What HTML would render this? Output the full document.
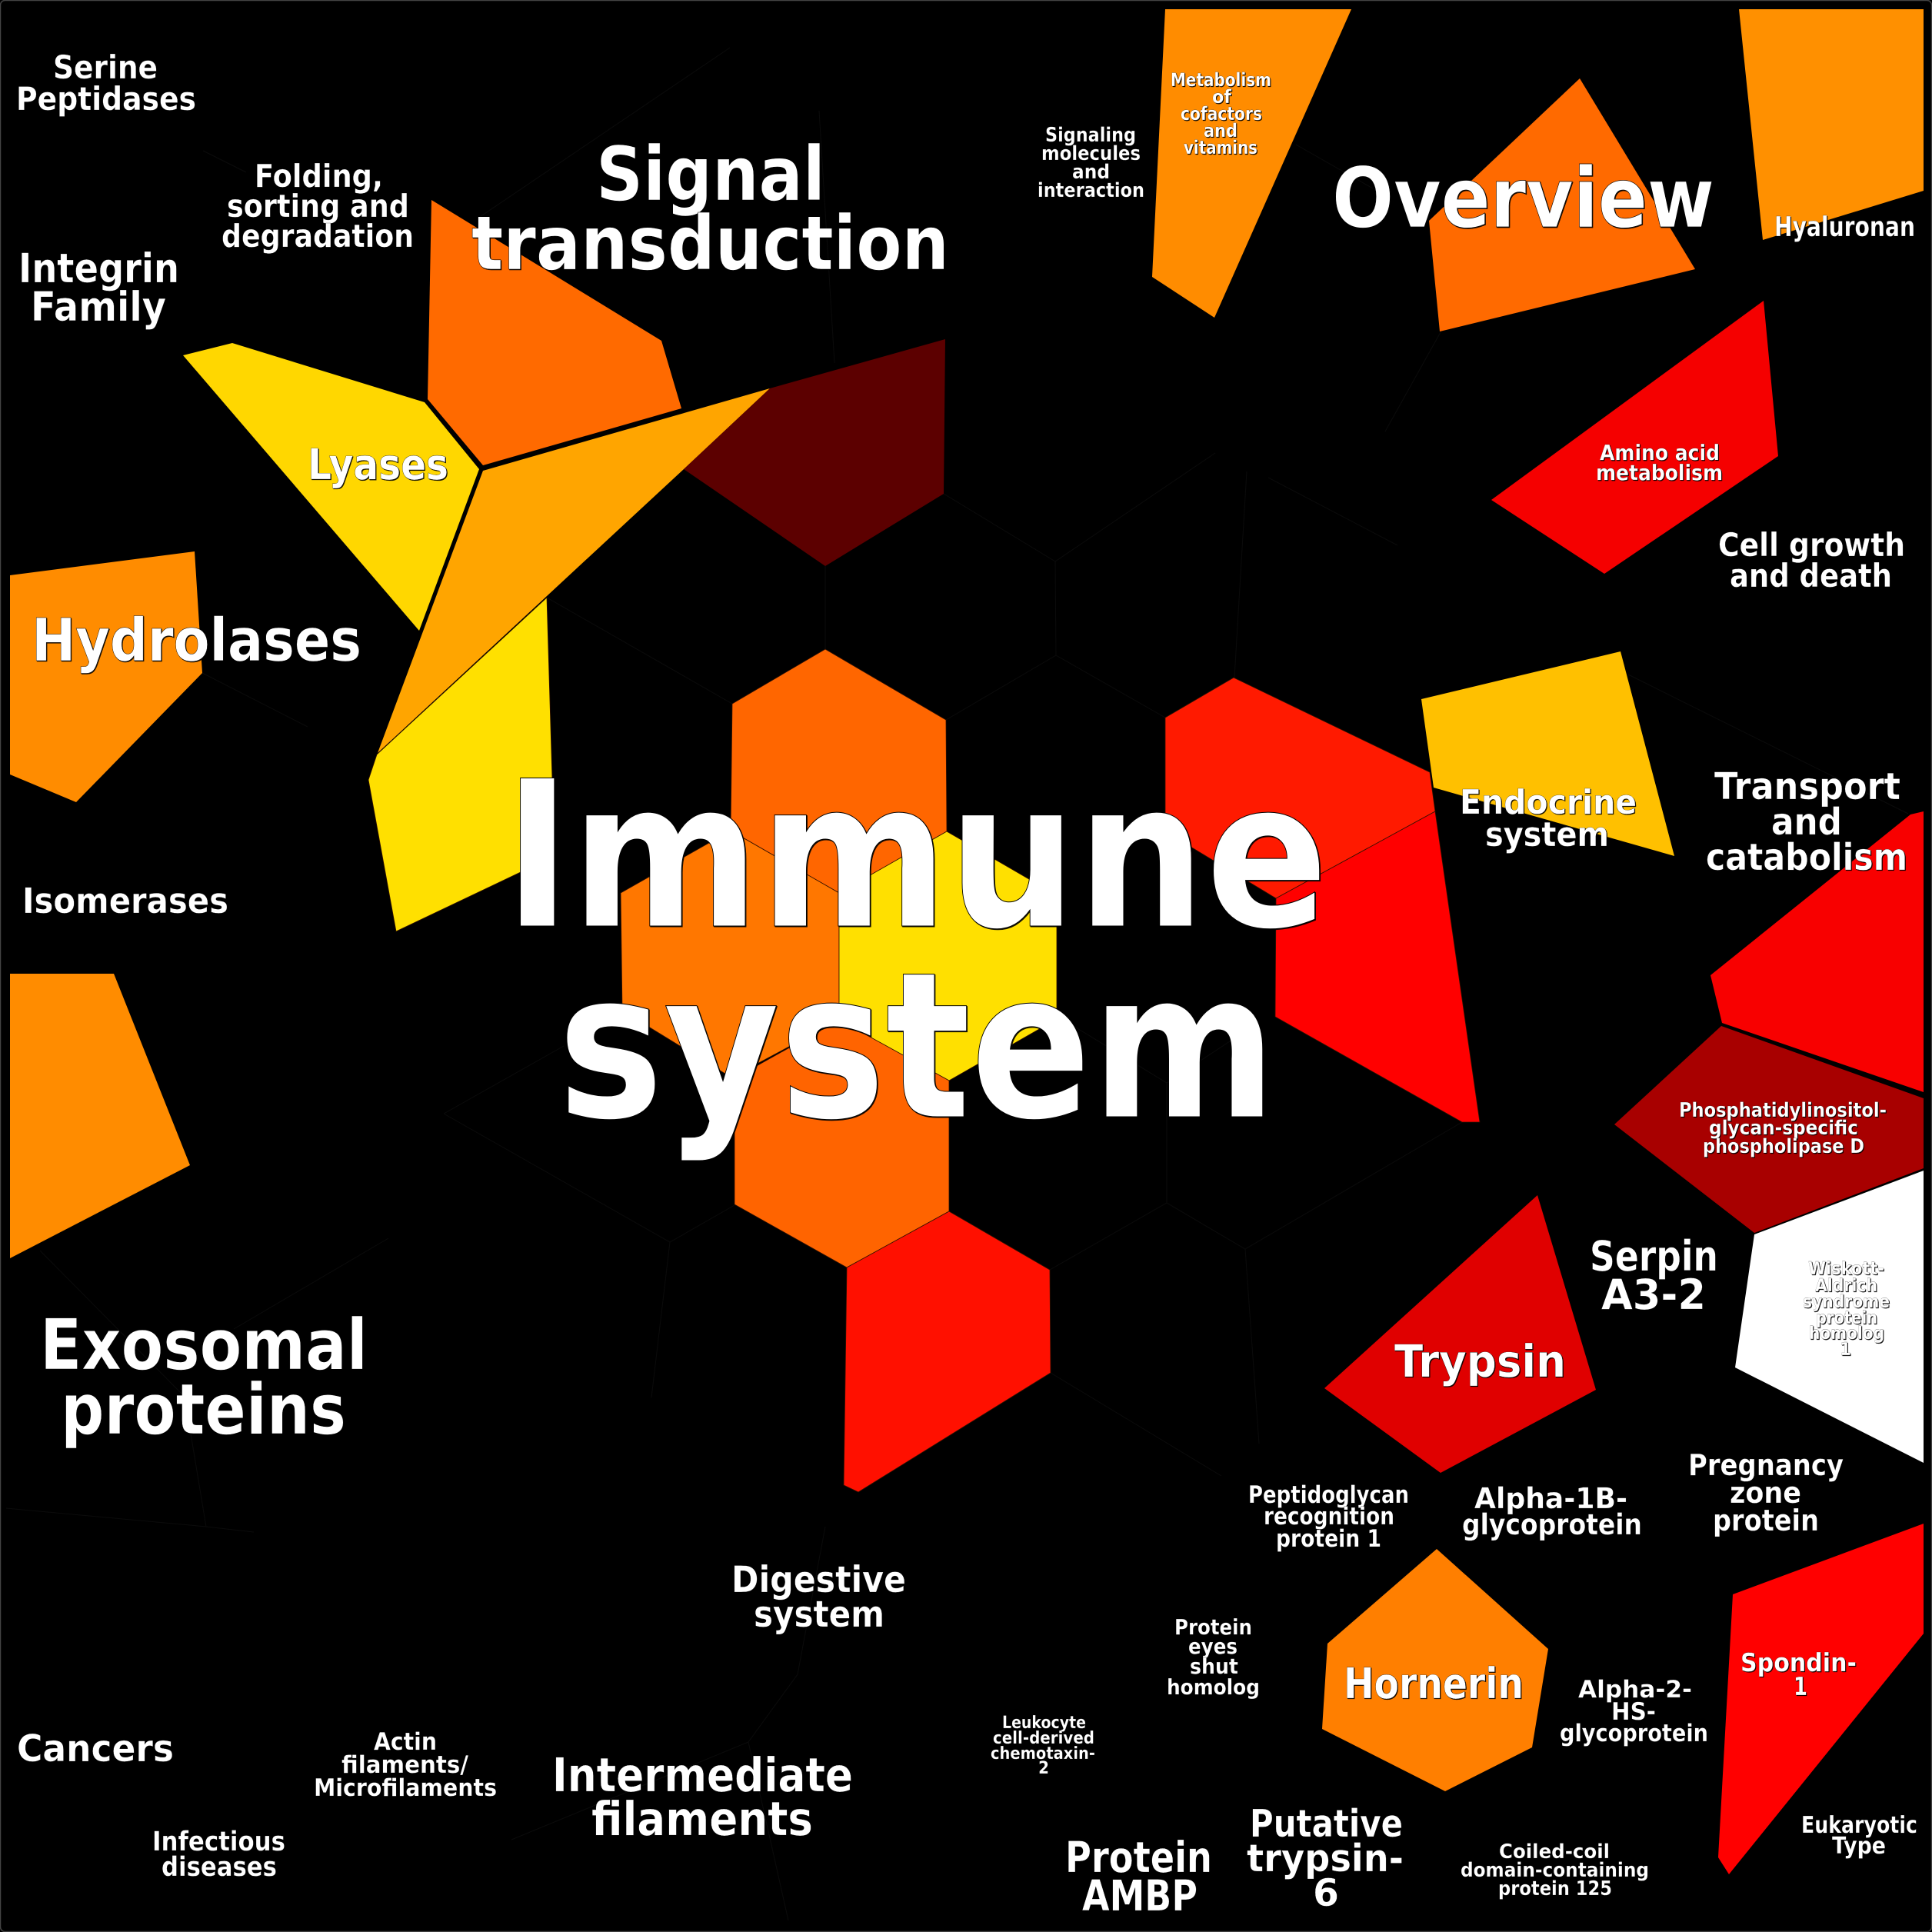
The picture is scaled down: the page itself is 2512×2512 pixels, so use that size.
<!DOCTYPE html>
<html><head><meta charset="utf-8"><style>
html,body{margin:0;padding:0;background:#000}
svg{display:block}
text{font-family:"DejaVu Sans","Liberation Sans",sans-serif;font-weight:bold;fill:#fff;stroke:#000;stroke-width:.006em}
#t{filter:drop-shadow(1.2px 1.2px 0 rgba(0,0,0,.9))}
</style></head><body>
<svg xmlns="http://www.w3.org/2000/svg" width="2512" height="2512" viewBox="0 0 2512 2512">
<rect width="2512" height="2512" fill="#000"/>
<rect x="0.5" y="0.5" width="2511" height="2511" rx="6" fill="none" stroke="#444" stroke-width="1.5"/>
<g fill="none" stroke="#0b0b0b" stroke-width="1">
<path d="M949 62L621 284M1065 144L1085 472M711 777L952 915M1073 736V844M1227 642L1372 730L1373 852L1230 936M1372 730L1580 589M1373 852L1515 933M1621 613L1605 881M1873 432L1801 561M1649 621L1817 709M1685 188L1785 245M2117 877L2481 1058"/>
<path d="M263 875L400 945M264 196L320 224M577 1448L733 1360M577 1448L871 1615L955 1567M871 1615L847 1817M52 1626L240 1816L268 1985M505 1610L304 1728M8 1961L268 1985L330 1992M1073 1985L1037 2177L973 2265L665 2392M973 2265L1025 2497"/>
<path d="M1399 1336L1517 1408V1564M1517 1408L1608 1348M1365 1651L1517 1564L1619 1624L1901 1459M1619 1624L1637 1877M1366 1785L1588 1919"/>
</g>
<g stroke="#301000" stroke-width="0.8">
<polygon fill="#ff6a00" points="561,260 860,443 886,531 628,605 556,519" stroke="none"/>
<polygon fill="#ffd700" points="238,462 302,446 552,523 623,610 545,820" stroke="none"/>
<polygon fill="#ffa500" points="628,612 1001,505 889,610 711,775 491,979" stroke="none"/>
<polygon fill="#5c0000" points="1001,505 1229,441 1227,642 1073,736 889,610" stroke="none"/>
<polygon fill="#ff8c00" points="13,748 253,717 263,875 99,1043 13,1007" stroke="none"/>
<polygon fill="#ffe000" points="711,777 721,1113 515,1211 479,1014 490,981"/>
<polygon fill="#ff6600" points="1073,844 1230,936 1231,1081 1091,1161 950,1080 952,915"/>
<polygon fill="#ff7700" points="950,1080 1091,1161 1091,1326 951,1401 809,1314 807,1161"/>
<polygon fill="#ffe000" points="1091,1161 1231,1081 1374,1164 1374,1325 1234,1405 1091,1326"/>
<polygon fill="#ff6400" points="955,1402 1091,1326 1234,1405 1234,1575 1101,1648 955,1566"/>
<polygon fill="#ff1000" points="1101,1648 1234,1575 1365,1651 1366,1785 1116,1940 1097,1931"/>
<polygon fill="#ff1a00" points="1515,933 1604,881 1859,1004 1866,1055 1659,1168 1515,1081"/>
<polygon fill="#ff0000" points="1866,1055 1659,1168 1658,1322 1901,1459 1924,1459"/>
</g>
<g stroke="none">
<polygon fill="#ff6a00" points="2054,102 2204,350 1872,431 1858,287"/>
<polygon fill="#ff8c00" points="1515,12 1757,12 1579,413 1498,360"/>
<polygon fill="#ff9000" points="2261,12 2501,12 2501,248 2292,312"/>
<polygon fill="#f50000" points="2293,391 2312,593 2086,746 1939,650"/>
<polygon fill="#ffc000" points="1848,909 2107,847 2177,1113 1864,1024"/>
<polygon fill="#f80000" points="2484,1059 2501,1055 2501,1420 2239,1330 2224,1268"/>
<polygon fill="#a80000" points="2238,1334 2501,1428 2501,1519 2281,1603 2099,1462"/>
<polygon fill="#ffffff" points="2501,1522 2501,1902 2256,1778 2281,1605"/>
<polygon fill="#e00000" points="1999,1554 2075,1807 1873,1915 1722,1805"/>
<polygon fill="#ff7f00" points="1868,2014 2013,2144 1992,2272 1879,2329 1719,2248 1726,2137"/>
<polygon fill="#ff0000" points="2253,2073 2501,1981 2501,2124 2248,2437 2234,2415"/>
<polygon fill="#ff8c00" points="13,1266 148,1266 247,1515 13,1636"/>
</g>
<g id="t">
<text x="69" y="102" font-size="42" textLength="136" lengthAdjust="spacingAndGlyphs">Serine</text>
<text x="21" y="143" font-size="42" textLength="234" lengthAdjust="spacingAndGlyphs">Peptidases</text>
<text x="331" y="243" font-size="41" textLength="167" lengthAdjust="spacingAndGlyphs">Folding,</text>
<text x="295" y="282" font-size="41" textLength="237" lengthAdjust="spacingAndGlyphs">sorting and</text>
<text x="288" y="321" font-size="41" textLength="250" lengthAdjust="spacingAndGlyphs">degradation</text>
<text x="24" y="367" font-size="53" textLength="209" lengthAdjust="spacingAndGlyphs">Integrin</text>
<text x="40" y="417" font-size="53" textLength="176" lengthAdjust="spacingAndGlyphs">Family</text>
<text x="775" y="260" font-size="97" textLength="298" lengthAdjust="spacingAndGlyphs">Signal</text>
<text x="613" y="350" font-size="97" textLength="621" lengthAdjust="spacingAndGlyphs">transduction</text>
<text x="400" y="623" font-size="55" textLength="183" lengthAdjust="spacingAndGlyphs">Lyases</text>
<text x="41" y="859" font-size="77" textLength="429" lengthAdjust="spacingAndGlyphs">Hydrolases</text>
<text x="29" y="1187" font-size="45" textLength="268" lengthAdjust="spacingAndGlyphs">Isomerases</text>
<text x="655" y="1204" font-size="264" textLength="1072" lengthAdjust="spacingAndGlyphs" style="stroke-width:1px">Immune</text>
<text x="725" y="1452" font-size="264" textLength="935" lengthAdjust="spacingAndGlyphs" style="stroke-width:1px">system</text>
<text x="1522" y="112" font-size="24" textLength="131" lengthAdjust="spacingAndGlyphs">Metabolism</text>
<text x="1576" y="134" font-size="24" textLength="25" lengthAdjust="spacingAndGlyphs">of</text>
<text x="1535" y="156" font-size="24" textLength="106" lengthAdjust="spacingAndGlyphs">cofactors</text>
<text x="1565" y="178" font-size="24" textLength="44" lengthAdjust="spacingAndGlyphs">and</text>
<text x="1539" y="200" font-size="24" textLength="96" lengthAdjust="spacingAndGlyphs">vitamins</text>
<text x="1359" y="184" font-size="26" textLength="118" lengthAdjust="spacingAndGlyphs">Signaling</text>
<text x="1354" y="208" font-size="26" textLength="129" lengthAdjust="spacingAndGlyphs">molecules</text>
<text x="1394" y="232" font-size="26" textLength="49" lengthAdjust="spacingAndGlyphs">and</text>
<text x="1349" y="256" font-size="26" textLength="139" lengthAdjust="spacingAndGlyphs">interaction</text>
<text x="1732" y="295" font-size="108" textLength="497" lengthAdjust="spacingAndGlyphs">Overview</text>
<text x="2307" y="307" font-size="36" textLength="183" lengthAdjust="spacingAndGlyphs">Hyaluronan</text>
<text x="2080" y="598" font-size="28" textLength="156" lengthAdjust="spacingAndGlyphs">Amino acid</text>
<text x="2075" y="624" font-size="28" textLength="165" lengthAdjust="spacingAndGlyphs">metabolism</text>
<text x="2234" y="723" font-size="42" textLength="243" lengthAdjust="spacingAndGlyphs">Cell growth</text>
<text x="2249" y="763" font-size="42" textLength="211" lengthAdjust="spacingAndGlyphs">and death</text>
<text x="1898" y="1058" font-size="44" textLength="230" lengthAdjust="spacingAndGlyphs">Endocrine</text>
<text x="1931" y="1100" font-size="44" textLength="161" lengthAdjust="spacingAndGlyphs">system</text>
<text x="2229" y="1039" font-size="48" textLength="242" lengthAdjust="spacingAndGlyphs">Transport</text>
<text x="2303" y="1085" font-size="48" textLength="92" lengthAdjust="spacingAndGlyphs">and</text>
<text x="2218" y="1131" font-size="48" textLength="262" lengthAdjust="spacingAndGlyphs">catabolism</text>
<text x="52" y="1780" font-size="91" textLength="426" lengthAdjust="spacingAndGlyphs">Exosomal</text>
<text x="79" y="1864" font-size="91" textLength="371" lengthAdjust="spacingAndGlyphs">proteins</text>
<text x="951" y="2070" font-size="47" textLength="227" lengthAdjust="spacingAndGlyphs">Digestive</text>
<text x="980" y="2115" font-size="47" textLength="170" lengthAdjust="spacingAndGlyphs">system</text>
<text x="22" y="2290" font-size="48" textLength="204" lengthAdjust="spacingAndGlyphs">Cancers</text>
<text x="486" y="2275" font-size="31" textLength="82" lengthAdjust="spacingAndGlyphs">Actin</text>
<text x="444" y="2305" font-size="31" textLength="165" lengthAdjust="spacingAndGlyphs">filaments/</text>
<text x="408" y="2335" font-size="31" textLength="238" lengthAdjust="spacingAndGlyphs">Microfilaments</text>
<text x="198" y="2406" font-size="35" textLength="173" lengthAdjust="spacingAndGlyphs">Infectious</text>
<text x="210" y="2439" font-size="35" textLength="150" lengthAdjust="spacingAndGlyphs">diseases</text>
<text x="718" y="2329" font-size="61" textLength="391" lengthAdjust="spacingAndGlyphs">Intermediate</text>
<text x="769" y="2386" font-size="61" textLength="288" lengthAdjust="spacingAndGlyphs">filaments</text>
<text x="2183" y="1452" font-size="26" textLength="270" lengthAdjust="spacingAndGlyphs">Phosphatidylinositol-</text>
<text x="2222" y="1475" font-size="26" textLength="194" lengthAdjust="spacingAndGlyphs">glycan-specific</text>
<text x="2214" y="1499" font-size="26" textLength="210" lengthAdjust="spacingAndGlyphs">phospholipase D</text>
<text x="2351" y="1657" font-size="23" textLength="99" lengthAdjust="spacingAndGlyphs">Wiskott-</text>
<text x="2360" y="1679" font-size="23" textLength="81" lengthAdjust="spacingAndGlyphs">Aldrich</text>
<text x="2344" y="1700" font-size="23" textLength="113" lengthAdjust="spacingAndGlyphs">syndrome</text>
<text x="2361" y="1721" font-size="23" textLength="80" lengthAdjust="spacingAndGlyphs">protein</text>
<text x="2352" y="1741" font-size="23" textLength="98" lengthAdjust="spacingAndGlyphs">homolog</text>
<text x="2392" y="1762" font-size="23" textLength="15" lengthAdjust="spacingAndGlyphs">1</text>
<text x="2067" y="1652" font-size="54" textLength="167" lengthAdjust="spacingAndGlyphs">Serpin</text>
<text x="2082" y="1702" font-size="54" textLength="136" lengthAdjust="spacingAndGlyphs">A3-2</text>
<text x="1813" y="1790" font-size="58" textLength="223" lengthAdjust="spacingAndGlyphs">Trypsin</text>
<text x="1623" y="1954" font-size="31" textLength="209" lengthAdjust="spacingAndGlyphs">Peptidoglycan</text>
<text x="1643" y="1982" font-size="31" textLength="170" lengthAdjust="spacingAndGlyphs">recognition</text>
<text x="1659" y="2011" font-size="31" textLength="137" lengthAdjust="spacingAndGlyphs">protein 1</text>
<text x="1917" y="1961" font-size="37" textLength="199" lengthAdjust="spacingAndGlyphs">Alpha-1B-</text>
<text x="1901" y="1995" font-size="37" textLength="234" lengthAdjust="spacingAndGlyphs">glycoprotein</text>
<text x="2195" y="1918" font-size="38" textLength="202" lengthAdjust="spacingAndGlyphs">Pregnancy</text>
<text x="2249" y="1954" font-size="38" textLength="93" lengthAdjust="spacingAndGlyphs">zone</text>
<text x="2227" y="1990" font-size="38" textLength="138" lengthAdjust="spacingAndGlyphs">protein</text>
<text x="1527" y="2125" font-size="28" textLength="101" lengthAdjust="spacingAndGlyphs">Protein</text>
<text x="1545" y="2150" font-size="28" textLength="64" lengthAdjust="spacingAndGlyphs">eyes</text>
<text x="1547" y="2176" font-size="28" textLength="63" lengthAdjust="spacingAndGlyphs">shut</text>
<text x="1517" y="2203" font-size="28" textLength="121" lengthAdjust="spacingAndGlyphs">homolog</text>
<text x="1747" y="2208" font-size="55" textLength="234" lengthAdjust="spacingAndGlyphs">Hornerin</text>
<text x="2052" y="2207" font-size="31" textLength="148" lengthAdjust="spacingAndGlyphs">Alpha-2-</text>
<text x="2095" y="2236" font-size="31" textLength="58" lengthAdjust="spacingAndGlyphs">HS-</text>
<text x="2028" y="2264" font-size="31" textLength="193" lengthAdjust="spacingAndGlyphs">glycoprotein</text>
<text x="2263" y="2173" font-size="33" textLength="151" lengthAdjust="spacingAndGlyphs">Spondin-</text>
<text x="2332" y="2204" font-size="33" textLength="18" lengthAdjust="spacingAndGlyphs">1</text>
<text x="1303" y="2247" font-size="22" textLength="109" lengthAdjust="spacingAndGlyphs">Leukocyte</text>
<text x="1291" y="2267" font-size="22" textLength="132" lengthAdjust="spacingAndGlyphs">cell-derived</text>
<text x="1288" y="2287" font-size="22" textLength="136" lengthAdjust="spacingAndGlyphs">chemotaxin-</text>
<text x="1350" y="2306" font-size="22" textLength="14" lengthAdjust="spacingAndGlyphs">2</text>
<text x="1385" y="2434" font-size="55" textLength="191" lengthAdjust="spacingAndGlyphs">Protein</text>
<text x="1407" y="2484" font-size="55" textLength="150" lengthAdjust="spacingAndGlyphs">AMBP</text>
<text x="1625" y="2388" font-size="49" textLength="199" lengthAdjust="spacingAndGlyphs">Putative</text>
<text x="1621" y="2433" font-size="49" textLength="204" lengthAdjust="spacingAndGlyphs">trypsin-</text>
<text x="1707" y="2478" font-size="49" textLength="34" lengthAdjust="spacingAndGlyphs">6</text>
<text x="1949" y="2416" font-size="26" textLength="144" lengthAdjust="spacingAndGlyphs">Coiled-coil</text>
<text x="1899" y="2440" font-size="26" textLength="245" lengthAdjust="spacingAndGlyphs">domain-containing</text>
<text x="1948" y="2464" font-size="26" textLength="148" lengthAdjust="spacingAndGlyphs">protein 125</text>
<text x="2342" y="2383" font-size="30" textLength="151" lengthAdjust="spacingAndGlyphs">Eukaryotic</text>
<text x="2382" y="2410" font-size="30" textLength="70" lengthAdjust="spacingAndGlyphs">Type</text>
</g>
</svg>
</body></html>
